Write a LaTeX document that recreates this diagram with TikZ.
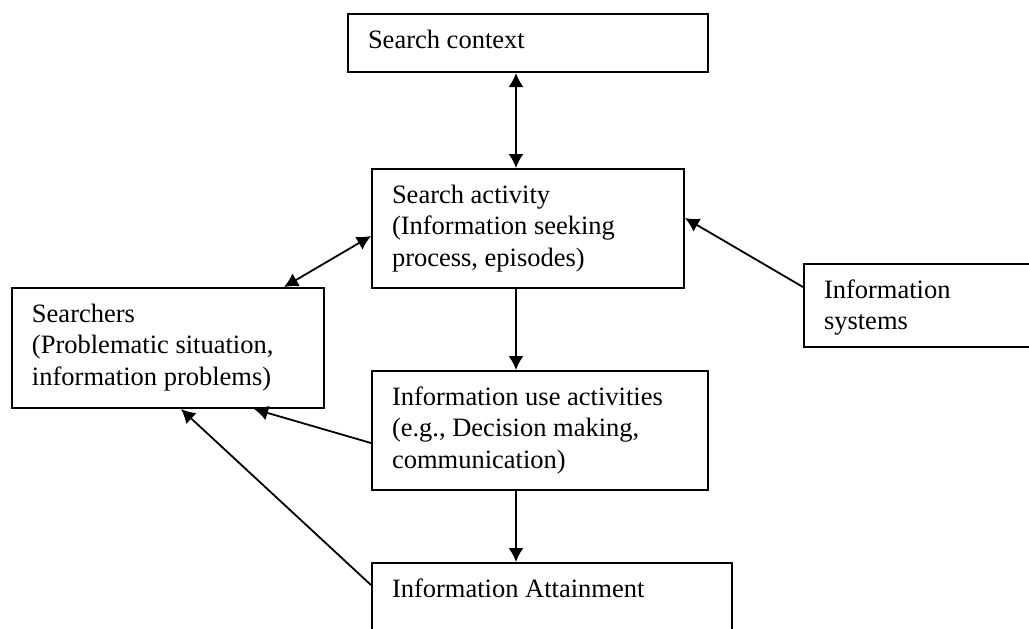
\documentclass[tikz,border=0pt]{standalone}
\usepackage{fontspec}
\setmainfont{Liberation Serif}
\usetikzlibrary{arrows.meta}

\newcommand{\boxtext}[3]{\parbox[c][#2][t]{#1}{\raggedright\rule{0pt}{17pt}#3}}

\begin{document}
\begin{tikzpicture}[x=0.5pt, y=-0.5pt]
\tikzset{ >={Latex[length=7pt,width=7.5pt]},
  box/.style={draw, line width=1pt, anchor=north west, inner xsep=10pt, inner ysep=0pt,
              font=\fontsize{13.25pt}{15.8pt}\selectfont},
  link/.style={line width=0.9pt} }

\useasboundingbox (0,0) rectangle (1029,628);
\clip (0,0) rectangle (1029,628);

\node [box] (ctx)  at (347,13)  {\boxtext{160pt}{29pt}{Search context}};
\node [box] (act)  at (371,168) {\boxtext{136pt}{59.5pt}{Search activity\\(Information seeking\\process, episodes)}};
\node [box] (srch) at (11,287)  {\boxtext{136pt}{60pt}{Searchers\\(Problematic situation,\\information problems)}};
\node [box] (isys) at (803,263) {\boxtext{110pt}{41.5pt}{Information\\systems}};
\node [box] (use)  at (371,370) {\boxtext{148pt}{59.5pt}{Information use activities\\(e.g., Decision making,\\communication)}};
\node [box] (att)  at (371,562) {\boxtext{160pt}{45pt}{Information Attainment}};

% vertical chain
\draw [link,<->] ([xshift=-6pt]ctx.south) -- ([xshift=-6pt]act.north);
\draw [link,->]  ([xshift=-6pt]act.south) -- ([xshift=-6pt]act.south |- use.north);
\draw [link,->]  ([xshift=-6pt]act.south |- use.south) -- ([xshift=-6pt]act.south |- att.north);

% side links
\draw [link,<->] ([xshift=-20.5pt]srch.north east) -- ([yshift=-3.75pt]act.west);
\draw [link,->]  ([yshift=-12pt]isys.north west) -- ([yshift=5.25pt]act.east);
\draw [link,->]  ([yshift=-6.25pt]use.west) -- ([xshift=-35.5pt]srch.south east);
\draw [link,->]  ([yshift=-11.5pt]att.north west) -- ([xshift=6.5pt]srch.south);

\end{tikzpicture}
\end{document}
